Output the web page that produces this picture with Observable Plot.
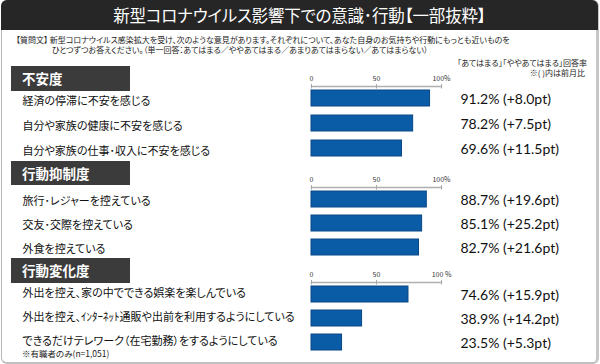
<!DOCTYPE html>
<html><head><meta charset="utf-8">
<script src="https://cdn.jsdelivr.net/npm/d3@7"></script>
<script src="https://cdn.jsdelivr.net/npm/@observablehq/plot@0.6"></script>
<style>
html,body{margin:0;padding:0;background:#fff;}
body{width:600px;height:364px;overflow:hidden;font-family:"Noto Sans CJK JP","Noto Sans",sans-serif;font-feature-settings:"palt";color:#111;}
#root{position:relative;width:600px;height:364px;}
.frame{position:absolute;left:1px;top:0;width:594px;height:361px;border:1px solid #b8b8b8;border-right:3px solid #c6c6c6;border-bottom:2px solid #c0c0c0;border-radius:6px;box-sizing:content-box;}
.titlebar{position:absolute;left:1px;top:0;width:597px;height:30px;background:#262626;border-radius:6px 6px 0 0;color:#fff;font-size:16.5px;line-height:31px;text-align:center;letter-spacing:-0.2px;}
.q{position:absolute;font-size:8px;line-height:10px;white-space:nowrap;color:#222;}
.note{position:absolute;right:13px;font-size:8px;line-height:10px;white-space:nowrap;color:#222;text-align:right;}
.hdr{position:absolute;left:11px;width:119px;background:#3b3b3b;color:#fff;font-weight:bold;font-size:13.5px;padding-left:11px;box-sizing:border-box;overflow:hidden;z-index:0;}
.sec{position:absolute;left:0;z-index:1;}
.foot{position:absolute;left:22px;top:349px;font-size:8.5px;line-height:9px;color:#222;}
</style></head>
<body><div id="root"></div>
<script>
const titleText = "新型コロナウイルス影響下での意識･行動【一部抜粋】";
const questionLine1 = "【質問文】 新型コロナウイルス感染拡大を受け、次のような意見があります。それぞれについて、あなた自身のお気持ちや行動にもっとも近いものを";
const questionLine2 = "ひとつずつお答えください。（単一回答：あてはまる／ややあてはまる／あまりあてはまらない／あてはまらない）";
const noteLine1 = "「あてはまる」「ややあてはまる」回答率";
const noteLine2 = "※( )内は前月比";
const footnote = "※有職者のみ(n=1,051)";

const sectionNames = ["不安度", "行動抑制度", "行動変化度"];

const items1 = ["経済の停滞に不安を感じる", "自分や家族の健康に不安を感じる", "自分や家族の仕事･収入に不安を感じる"];
const values1 = [91.2, 78.2, 69.6];
const changes1 = [8.0, 7.5, 11.5];

const items2 = ["旅行･レジャーを控えている", "交友･交際を控えている", "外食を控えている"];
const values2 = [88.7, 85.1, 82.7];
const changes2 = [19.6, 25.2, 21.6];

const items3 = ["外出を控え、家の中でできる娯楽を楽しんでいる", "外出を控え、ｲﾝﾀｰﾈｯﾄ通販や出前を利用するようにしている", "できるだけテレワーク（在宅勤務）をするようにしている"];
const values3 = [74.6, 38.9, 23.5];
const changes3 = [15.9, 14.2, 5.3];

const tickValues = [0, 50, 100];
const tickLabels1 = ["0", "50", "100%"];
const tickLabels2 = ["0", "50", "100%"];
const tickLabels3 = ["0", "50", "100 %"];

const root = document.getElementById("root");
function div(cls, text, style) {
  const d = document.createElement("div");
  d.className = cls;
  d.textContent = text;
  Object.assign(d.style, style || {});
  root.appendChild(d);
  return d;
}
div("frame", "");
div("titlebar", titleText);
div("q", questionLine1, {left: "16px", top: "35px"});
div("q", questionLine2, {left: "52px", top: "45px"});
div("note", noteLine1, {top: "58px"});
div("note", noteLine2, {top: "68px", right: "15px"});

function section(name, items, values, changes, tickLabels, top, hdrTop, hdrH, step, labelDy) {
  div("hdr", name, {top: hdrTop + "px", height: hdrH + "px", lineHeight: hdrH + "px"});
  const data = items.map((label, i) => ({label, value: values[i], change: changes[i]}));
  const barH = 16;
  const pi = (step - barH) / step;
  const po = 4 / step;
  const marginTop = 20, marginBottom = 4;
  const frameH = step * (items.length - pi + 2 * po);
  const height = Math.round(marginTop + frameH + marginBottom);
  const chart = Plot.plot({
    width: 600,
    height,
    marginLeft: 311,
    marginRight: 159,
    marginTop,
    marginBottom,
    x: {domain: [0, 100]},
    y: {domain: items, paddingInner: pi, paddingOuter: po, axis: null},
    style: {background: "transparent", overflow: "visible", fontFamily: "'Noto Sans CJK JP', sans-serif"},
    marks: [
      Plot.frame({anchor: "top", stroke: "#b0b0b0", strokeWidth: 1.5}),
      Plot.ruleX(tickValues, {x: d => d, stroke: "#a8a8a8", strokeWidth: 1, insetBottom: frameH - 2.5}),
      Plot.axisX({anchor: "top", ticks: tickValues, tickFormat: (d, i) => tickLabels[i], tickSize: 3, tickPadding: 3, fontSize: 7, stroke: "#a8a8a8", fill: "#333", label: null}),
      Plot.barX(data, {x: "value", y: "label", fill: "#0b5ca6", stroke: "#0a4785", strokeWidth: 1}),
      Plot.text(data, {y: "label", text: "label", frameAnchor: "left", textAnchor: "start", dx: 22 - 311, dy: labelDy, fontSize: 11, fill: "#111", fontFeatureSettings: "palt"}),
      Plot.text(data, {y: "label", text: d => `${d.value.toFixed(1)}% (+${d.change.toFixed(1)}pt)`, frameAnchor: "right", textAnchor: "start", dx: 19, dy: 1, fontSize: 14, fill: "#111", fontFamily: "Lato, 'Open Sans', sans-serif"})
    ]
  });
  chart.classList.add("sec");
  chart.style.top = top + "px";
  root.appendChild(chart);
}
section(sectionNames[0], items1, values1, changes1, tickLabels1, 66, 66, 25, 25, 3);
section(sectionNames[1], items2, values2, changes2, tickLabels2, 167, 161, 24, 24, 1.5);
section(sectionNames[2], items3, values3, changes3, tickLabels3, 262, 258, 25, 24, -1.5);
div("foot", footnote);
</script>
</body></html>
